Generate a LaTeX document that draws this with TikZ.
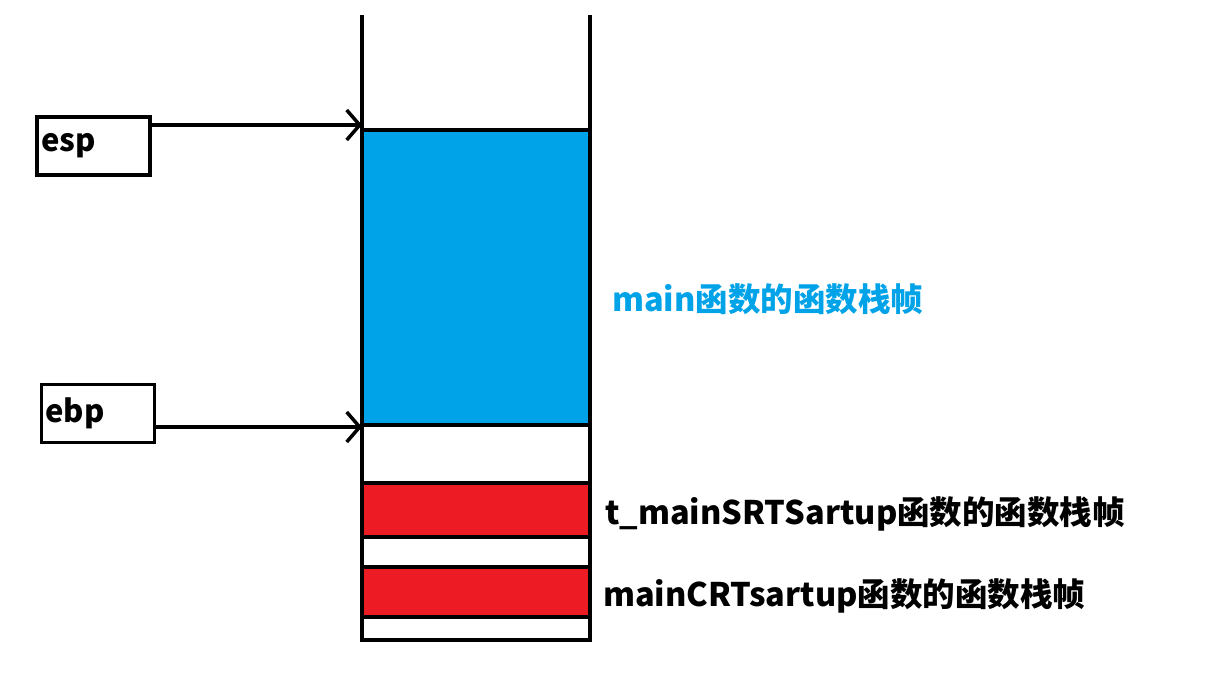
\documentclass[tikz,border=0pt]{standalone}
\usepackage{fontspec}
\setmainfont{Noto Sans CJK SC}
\usetikzlibrary{arrows.meta}
\definecolor{sblue}{HTML}{00A2E8}
\definecolor{sred}{HTML}{ED1C24}
\tikzset{
  ln/.style={line width=4pt},
  reg/.style={draw,line width=3.5pt,minimum width=113pt,minimum height=58pt,font=\bfseries\fontsize{31}{31}\selectfont,text width=105pt,align=left,inner sep=2pt},
  ptr/.style={line width=3.5pt,-{Straight Barb[length=13pt,width=30pt,line width=3.5pt]}},
  lbl/.style={anchor=west,font=\bfseries\fontsize{32.5}{32.5}\selectfont,inner sep=0pt}
}
\begin{document}
\begin{tikzpicture}[x=1pt,y=-1pt]
\useasboundingbox (0,0) rectangle (1210,683);
\fill[sblue] (362,130) rectangle (590,425);
\fill[sred] (362,483) rectangle (590,537);
\fill[sred] (362,567) rectangle (590,617);
\draw[ln] (362,15) -- (362,640) -- (590,640) -- (590,15);
\foreach \y in {130,425,483,537,567,617} \draw[ln] (362,\y) -- (590,\y);
\node[reg] (esp) at (93.5,146) {esp};
\node[reg] (ebp) at (98,413.5) {ebp};
\coordinate (espt) at (362,125);
\coordinate (ebpt) at (362,427);
\draw[ptr] (esp.east |- espt) -- (espt);
\draw[ptr] (ebp.east |- ebpt) -- (ebpt);
\node[lbl,text=sblue] (m) at (612,299) {main函数的函数栈帧};
\node[lbl] (t) at (605,514) {t\_mainSRTSartup函数的函数栈帧};
\node[lbl] (c) at (603,596) {mainCRTsartup函数的函数栈帧};
\end{tikzpicture}
\end{document}
